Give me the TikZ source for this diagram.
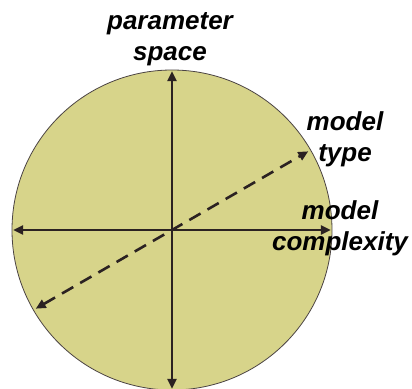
\documentclass[tikz,border=0pt]{standalone}
\usepackage{fontspec}
\setmainfont{Liberation Sans}
\usepackage{tikz}
\usetikzlibrary{arrows.meta}
\definecolor{khaki}{RGB}{215,212,138}
\definecolor{axisc}{RGB}{43,34,34}

\begin{document}
\begin{tikzpicture}[x=1pt, y=1pt,
  pspace/.style={circle, draw=axisc!85, line width=0.8pt, fill=khaki,
                 minimum size=320pt, inner sep=0pt},
  lbl/.style={font=\fontsize{26}{31}\selectfont\bfseries\itshape,
              align=center, inner sep=0pt, anchor=base},
  arr/.style={-{Triangle[length=10pt, width=9pt]}, line width=2.6pt, color=axisc,
              shorten >=1.5pt},
  darr/.style={{Triangle[length=10pt, width=9pt]}-{Triangle[length=10pt, width=9pt]},
               line width=2.6pt, color=axisc, dash pattern=on 13pt off 8pt,
               shorten >=3pt, shorten <=3pt}
]
\useasboundingbox (-172,-158) rectangle (240,230);
\node[pspace] (disc) at (0,0) {};
\coordinate (o) at (disc.center);

\draw[arr] (o) -- (disc.north);
\draw[arr] (o) -- (disc.south);
\draw[arr] (o) -- (disc.west);
\draw[arr] (o) -- (disc.east);
\draw[darr] (disc.210) -- (disc.30);

\node[lbl] (params) at (-2,169) {parameter\\space};
\node[lbl] (mtype) at (173,68) {model\\type};
\node[lbl] (mcomp) at (168,-20) {model\\complexity};
\end{tikzpicture}
\end{document}
